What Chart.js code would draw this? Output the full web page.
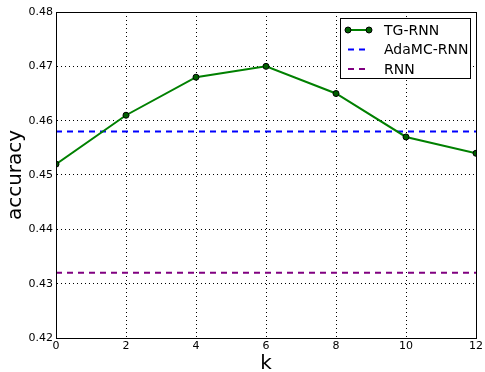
<!DOCTYPE html>
<html>
<head>
<meta charset="utf-8">
<script src="https://cdn.jsdelivr.net/npm/chart.js@4/dist/chart.umd.min.js"></script>
<style>
  html, body { margin: 0; padding: 0; background: #fff; }
  #wrap { width: 485px; height: 372px; }
</style>
</head>
<body>
<div id="wrap"><canvas id="chart" width="485" height="372"></canvas></div>
<script>
// k values on the x axis
const kValues = [0, 2, 4, 6, 8, 10, 12];
// accuracy of TG-RNN per k
const tgRnn = [0.452, 0.461, 0.468, 0.470, 0.465, 0.457, 0.454];
// constant baselines
const adamcRnn = [0.458, 0.458];
const rnn = [0.432, 0.432];
const baselineK = [0, 12];
const yTicks = [0.42, 0.43, 0.44, 0.45, 0.46, 0.47, 0.48];
const xTicks = [0, 2, 4, 6, 8, 10, 12];

const FONT = 'DejaVu Sans';

const toPoints = (xs, ys) => xs.map((x, i) => ({ x: x, y: ys[i] }));

// frame around plot area + legend box inside it
const framePlugin = {
    id: 'frame',
    afterDatasetsDraw(chart) {
        const { ctx, chartArea: a } = chart;
        ctx.save();
        ctx.strokeStyle = '#000';
        ctx.lineWidth = 1;
        ctx.strokeRect(a.left + 0.5, a.top + 0.5, a.right - a.left, a.bottom - a.top);
        ctx.restore();
    },
    afterDraw(chart) {
        const { ctx, chartArea: a } = chart;
        const boxX = a.right - 136, boxY = a.top + 6, boxW = 130, boxH = 60;
        ctx.save();
        ctx.fillStyle = '#fff';
        ctx.fillRect(boxX, boxY, boxW, boxH);
        ctx.strokeStyle = '#000';
        ctx.lineWidth = 1;
        ctx.strokeRect(boxX + 0.5, boxY + 0.5, boxW, boxH);
        ctx.font = '14px ' + FONT;
        ctx.textBaseline = 'middle';
        chart.data.datasets.forEach((ds, i) => {
            const y = boxY + 12 + i * 19.5;
            const x0 = boxX + 8, x1 = boxX + 29;
            ctx.strokeStyle = ds.borderColor;
            ctx.lineWidth = 2;
            ctx.setLineDash(ds.borderDash || []);
            ctx.beginPath();
            ctx.moveTo(x0, y);
            ctx.lineTo(x1, y);
            ctx.stroke();
            ctx.setLineDash([]);
            if (ds.pointRadius > 0) {
                [x0, x1].forEach(px => {
                    ctx.beginPath();
                    ctx.arc(px, y, ds.pointRadius, 0, Math.PI * 2);
                    ctx.fillStyle = ds.pointBackgroundColor;
                    ctx.fill();
                    ctx.lineWidth = 1;
                    ctx.strokeStyle = ds.pointBorderColor;
                    ctx.stroke();
                });
            }
            ctx.fillStyle = '#000';
            ctx.fillText(ds.label, boxX + 44, y + 1);
        });
        ctx.restore();
    }
};

new Chart(document.getElementById('chart'), {
    type: 'line',
    data: {
        datasets: [
            {
                label: 'TG-RNN',
                data: toPoints(kValues, tgRnn),
                borderColor: '#008000',
                borderWidth: 2,
                pointRadius: 3,
                pointBackgroundColor: '#006000',
                pointBorderColor: '#000',
                pointBorderWidth: 1,
                tension: 0
            },
            {
                label: 'AdaMC-RNN',
                data: toPoints(baselineK, adamcRnn),
                borderColor: '#0000ff',
                borderWidth: 2,
                borderDash: [6, 5],
                pointRadius: 0
            },
            {
                label: 'RNN',
                data: toPoints(baselineK, rnn),
                borderColor: '#800080',
                borderWidth: 2,
                borderDash: [6, 5],
                pointRadius: 0
            }
        ]
    },
    options: {
        responsive: false,
        animation: false,
        layout: { padding: { top: 12, right: 7, left: 0, bottom: 0 } },
        plugins: {
            legend: { display: false },
            tooltip: { enabled: false }
        },
        scales: {
            x: {
                type: 'linear',
                min: 0,
                max: 12,
                afterBuildTicks: s => { s.ticks = xTicks.map(v => ({ value: v })); },
                afterFit: s => { s.height = 34; },
                ticks: {
                    color: '#000',
                    font: { family: FONT, size: 11 },
                    padding: 2
                },
                grid: { color: '#000', lineWidth: 1, drawTicks: false },
                border: { color: '#000', width: 1, dash: [1, 3] },
                title: {
                    display: true,
                    text: 'k',
                    color: '#000',
                    font: { family: FONT, size: 20 },
                    padding: { top: 0, bottom: -4 }
                }
            },
            y: {
                min: 0.42,
                max: 0.48,
                afterBuildTicks: s => { s.ticks = yTicks.map(v => ({ value: v })); },
                afterFit: s => { s.width = 56; },
                ticks: {
                    color: '#000',
                    font: { family: FONT, size: 11 },
                    padding: 3,
                    callback: v => v.toFixed(2)
                },
                grid: { color: '#000', lineWidth: 1, drawTicks: false },
                border: { color: '#000', width: 1, dash: [1, 3] },
                title: {
                    display: true,
                    text: 'accuracy',
                    color: '#000',
                    font: { family: FONT, size: 20 },
                    padding: { top: 4, bottom: 0 }
                }
            }
        }
    },
    plugins: [framePlugin]
});
</script>
</body>
</html>
